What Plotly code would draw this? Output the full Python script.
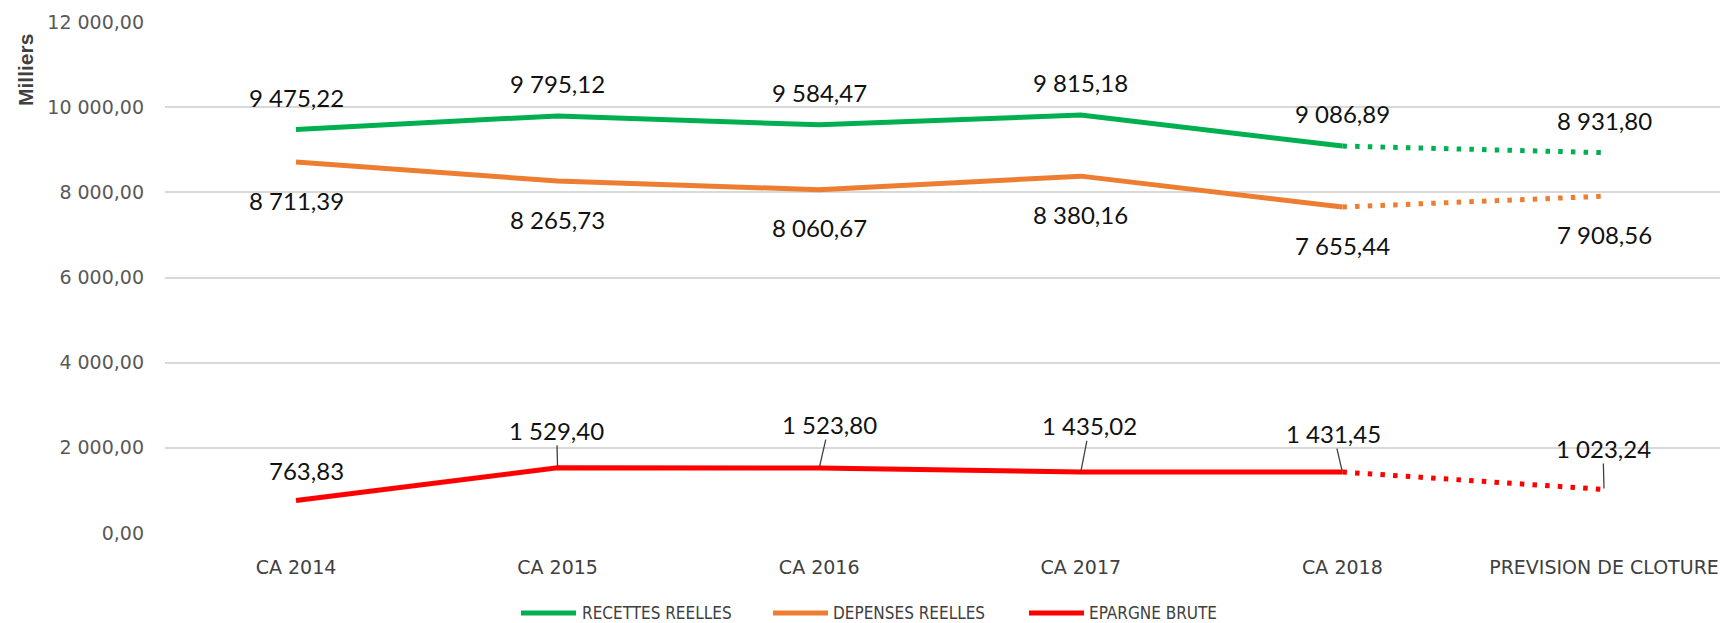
import plotly.graph_objects as go

# ---------------- data ----------------
categories = ["CA 2014", "CA 2015", "CA 2016", "CA 2017", "CA 2018", "PREVISION DE CLOTURE"]
recettes = [9475.22, 9795.12, 9584.47, 9815.18, 9086.89, 8931.80]
depenses = [8711.39, 8265.73, 8060.67, 8380.16, 7655.44, 7908.56]
epargne = [763.83, 1529.40, 1523.80, 1435.02, 1431.45, 1023.24]
series_names = ["RECETTES REELLES", "DEPENSES REELLES", "EPARGNE BRUTE"]
n_actual = 5  # realised years (solid); last point is a forecast (dotted)
y_ticks = [0, 2000, 4000, 6000, 8000, 10000, 12000]

# ---------------- styles ----------------
colors = ["#00B050", "#ED7D31", "#FF0000"]
label_font = dict(family="Lato, Liberation Sans, sans-serif", size=24, color="#111111")
# label offsets (pixels, dx, dy relative to the point; dy positive = down)
rec_off = [(0, -32.5)] * 6
dep_off = [(0, 38)] * 6
epa_off = [(10, -30), (-1, -37.5), (10, -43.5), (9, -46), (-9, -38.5), (-1, -41)]
epa_leader = [False, True, True, True, True, True]

OFF = 8  # default body margin of the html page
W, H = 1728 - OFF, 623 - OFF
L, R, T, B = 165 - OFF, 0, 22 - OFF, 90
PW, PH = W - L - R, H - T - B


def px_x(px):  # window pixel -> paper
    return (px - OFF - L) / PW


def px_y(py):
    return (H - B - (py - OFF)) / PH


def fmt(v):
    return f"{v:,.2f}".replace(",", " ").replace(".", ",")


fig = go.Figure()
all_series = [recettes, depenses, epargne]
for vals, col, name in zip(all_series, colors, series_names):
    fig.add_trace(go.Scatter(
        x=categories[:n_actual], y=vals[:n_actual], mode="lines", name=name,
        line=dict(color=col, width=5), showlegend=False, hoverinfo="skip"))
    fig.add_trace(go.Scatter(
        x=categories[n_actual - 1:], y=vals[n_actual - 1:], mode="lines", name=name,
        line=dict(color=col, width=5, dash="4.5px,8.2px"), showlegend=False,
        hoverinfo="skip"))

annotations = []
for vals, offs in [(recettes, rec_off), (depenses, dep_off)]:
    for c, v, (dx, dy) in zip(categories, vals, offs):
        annotations.append(dict(x=c, y=v, xref="x", yref="y", text=fmt(v),
                                showarrow=False, xshift=dx, yshift=-dy,
                                font=label_font, xanchor="center", yanchor="middle"))
for c, v, (dx, dy), lead in zip(categories, epargne, epa_off, epa_leader):
    if lead:
        annotations.append(dict(x=c, y=v, xref="x", yref="y", text=fmt(v),
                                showarrow=True, ax=dx, ay=dy, arrowhead=0,
                                arrowwidth=1.3, arrowcolor="#404040", standoff=1,
                                borderpad=0, font=label_font))
    else:
        annotations.append(dict(x=c, y=v, xref="x", yref="y", text=fmt(v),
                                showarrow=False, xshift=dx, yshift=-dy,
                                font=label_font, xanchor="center", yanchor="middle"))

# y axis title
annotations.append(dict(x=px_x(25), y=px_y(70), xref="paper", yref="paper",
                        text="<b>Milliers</b>", showarrow=False, textangle=-90,
                        xanchor="center", yanchor="middle",
                        font=dict(family="Liberation Sans, Arial, sans-serif",
                                  size=21, color="#404040")))

# manual legend
shapes = []
legend_items = [(521, 576, 581), (773, 828, 832), (1029, 1084, 1088)]
leg_y = px_y(613)
for (x0, x1, xt), col, name in zip(legend_items, colors, series_names):
    shapes.append(dict(type="line", xref="paper", yref="paper",
                       x0=px_x(x0), x1=px_x(x1), y0=leg_y, y1=leg_y,
                       line=dict(color=col, width=5)))
    annotations.append(dict(x=px_x(xt), y=leg_y, xref="paper", yref="paper",
                            text=name, showarrow=False, xanchor="left",
                            yanchor="middle", borderpad=0,
                            font=dict(family="DejaVu Sans Condensed, Lato, sans-serif",
                                      size=17, color="#404040")))

x_lo = (L - (296 - OFF)) / 261.6
x_hi = (W - R - (296 - OFF)) / 261.6

fig.update_layout(
    width=W, height=H,
    margin=dict(l=L, r=R, t=T, b=B, pad=0),
    paper_bgcolor="white", plot_bgcolor="white",
    separators=", ",
    showlegend=False,
    annotations=annotations,
    shapes=shapes,
    xaxis=dict(type="category", range=[x_lo, x_hi], showgrid=False, zeroline=False,
               showline=False, ticks="", automargin=False, ticklabelstandoff=21,
               tickfont=dict(family="DejaVu Sans, sans-serif", size=19, color="#404040")),
    yaxis=dict(range=[0, 12000], tickvals=y_ticks, tickformat=",.2f",
               showgrid=True, gridcolor="#D9D9D9", gridwidth=1.5, zeroline=False,
               showline=False, ticks="", automargin=False, ticklabelstandoff=20,
               tickfont=dict(family="DejaVu Sans, sans-serif", size=19, color="#595959")),
)

fig.write_html("out.html")
